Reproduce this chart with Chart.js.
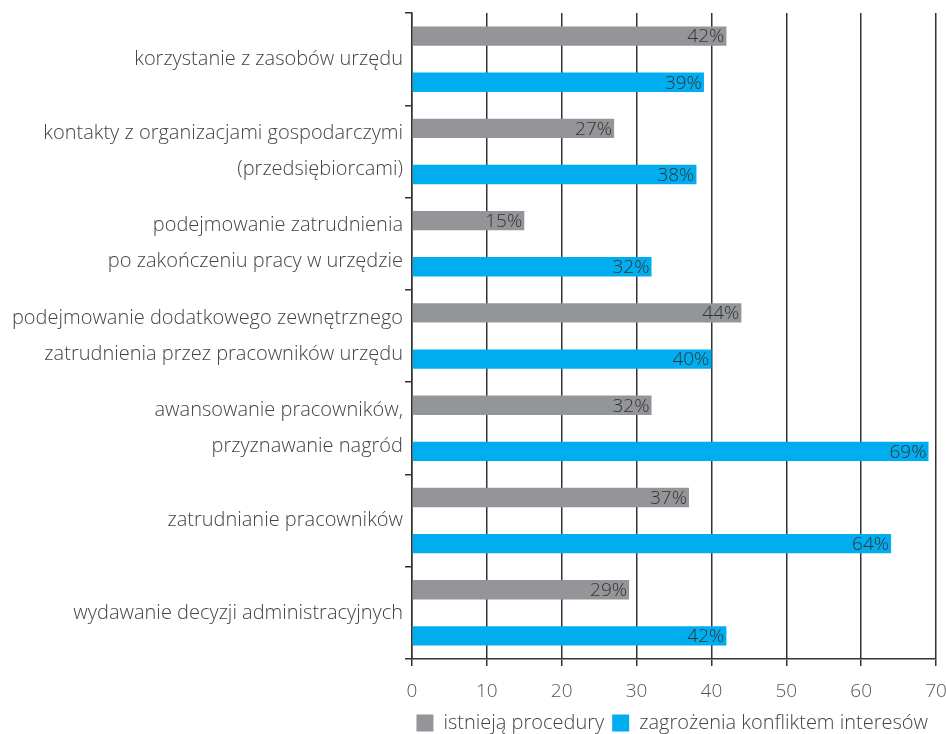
<!DOCTYPE html>
<html>
<head>
<meta charset="utf-8">
<script src="https://cdn.jsdelivr.net/npm/chart.js@4.4.1/dist/chart.umd.min.js"></script>
<style>
  html, body { margin: 0; padding: 0; background: #fff; }
  #wrap { width: 946px; height: 734px; }
</style>
</head>
<body>
<div id="wrap"><canvas id="chart" width="946" height="734"></canvas></div>
<script>
// Dane wykresu
const categories = [
    'korzystanie z zasobów urzędu',
    ['kontakty z organizacjami gospodarczymi', '(przedsiębiorcami)'],
    ['podejmowanie zatrudnienia', 'po zakończeniu pracy w urzędzie'],
    ['podejmowanie dodatkowego zewnętrznego', 'zatrudnienia przez pracowników urzędu'],
    ['awansowanie pracowników,', 'przyznawanie nagród'],
    'zatrudnianie pracowników',
    'wydawanie decyzji administracyjnych'
];
const procedury = [42, 27, 15, 44, 32, 37, 29];
const zagrozenia = [39, 38, 32, 40, 69, 64, 42];
const seriesNames = ['istnieją procedury', 'zagrożenia konfliktem interesów'];
const xTicks = [0, 10, 20, 30, 40, 50, 60, 70];

const FONT = '"Open Sans", "DejaVu Sans", sans-serif';

// Etykiety z wartościami na końcu słupka
const barLabels = {
    id: 'barLabels',
    afterDatasetsDraw(chart) {
        const ctx = chart.ctx;
        ctx.save();
        ctx.font = '300 19px ' + FONT;
        ctx.fillStyle = '#333';
        ctx.textAlign = 'right';
        ctx.textBaseline = 'middle';
        chart.data.datasets.forEach((ds, i) => {
            chart.getDatasetMeta(i).data.forEach((bar, j) => {
                ctx.fillText(ds.data[j] + '%', bar.x - 2, bar.y + 1);
            });
        });
        ctx.restore();
    }
};

new Chart(document.getElementById('chart'), {
    type: 'bar',
    data: {
        labels: categories,
        datasets: [
            { label: seriesNames[0], data: procedury, backgroundColor: '#939598', categoryPercentage: 1.0, barPercentage: 0.42 },
            { label: seriesNames[1], data: zagrozenia, backgroundColor: '#00adee', categoryPercentage: 1.0, barPercentage: 0.42 }
        ]
    },
    options: {
        indexAxis: 'y',
        responsive: false,
        animation: false,
        layout: { padding: { top: 13, right: 10, left: 0, bottom: -9 } },
        scales: {
            x: {
                min: 0,
                max: 70,
                afterBuildTicks: scale => { scale.ticks = xTicks.map(v => ({ value: v })); },
                afterFit: scale => { scale.paddingRight = 1; scale.height = 46; },
                grid: { color: '#333', lineWidth: 1.5, tickLength: 7, drawOnChartArea: true },
                border: { color: '#333', width: 1.5 },
                ticks: { color: '#555', font: { family: FONT, size: 19, weight: '300', lineHeight: 1.42 }, padding: 12 }
            },
            y: {
                afterFit: scale => { scale.width = 412; scale.paddingTop = 0; scale.paddingBottom = 0; },
                grid: { drawOnChartArea: false, color: '#333', lineWidth: 1.5, tickLength: 7, offset: true },
                border: { color: '#333', width: 1.5 },
                ticks: { color: '#444', font: { family: FONT, size: 20, weight: '300', lineHeight: 1.8 }, padding: 2 }
            }
        },
        plugins: {
            legend: {
                position: 'bottom',
                align: 'end',
                labels: {
                    boxWidth: 17,
                    boxHeight: 17,
                    padding: 8,
                    color: '#444',
                    font: { family: FONT, size: 20, weight: '300' }
                }
            },
            tooltip: { enabled: false }
        }
    },
    plugins: [barLabels]
});
</script>
</body>
</html>
